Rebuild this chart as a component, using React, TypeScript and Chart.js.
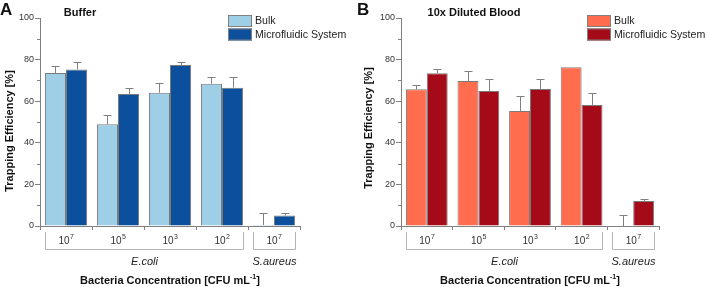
import React, { useEffect, useRef } from "react";
import { Chart, registerables } from "chart.js";

Chart.register(...registerables);

const categories = ["7", "5", "3", "2", "7"];
const groups = [
  { label: "E.coli", start: 0, end: 3 },
  { label: "S.aureus", start: 4, end: 4 },
];
const seriesNames = ["Bulk", "Microfluidic System"];

const bufferBulk = [73.5, 48.9, 64.1, 68.4, 0.5];
const bufferBulkErr = [3.3, 4.5, 4.8, 3.2, 5.9];
const bufferMicro = [75.3, 63.5, 77.4, 66.5, 5.1];
const bufferMicroErr = [3.5, 2.8, 1.3, 5.1, 1.0];

const bloodBulk = [65.7, 69.7, 55.3, 76.3, 0];
const bloodBulkErr = [1.9, 4.8, 7.0, 0, 5.5];
const bloodMicro = [73.4, 64.9, 65.9, 58.2, 12.0];
const bloodMicroErr = [1.9, 5.6, 4.6, 5.7, 0.8];

const FONT = "'Liberation Sans', Arial, Helvetica, sans-serif";

type PanelCfg = {
  letter: string;
  title: string;
  titleX: number;
  colors: string[];
  values: number[][];
  errors: number[][];
  left: number;
  right: number;
  yTitleX: number;
  yTitleY: number;
  legendX: number;
  letterX: number;
};

const panels: PanelCfg[] = [
  {
    letter: "A",
    title: "Buffer",
    titleX: 80,
    colors: ["#9ecfe7", "#0b4f9d"],
    values: [bufferBulk, bufferMicro],
    errors: [bufferBulkErr, bufferMicroErr],
    left: 40,
    right: 54,
    yTitleX: 10,
    yTitleY: 131,
    legendX: 228,
    letterX: 0,
  },
  {
    letter: "B",
    title: "10x Diluted Blood",
    titleX: 120,
    colors: ["#ff6c4e", "#a40a18"],
    values: [bloodBulk, bloodMicro],
    errors: [bloodBulkErr, bloodMicroErr],
    left: 47,
    right: 49,
    yTitleX: 15,
    yTitleY: 128,
    legendX: 233,
    letterX: 3,
  },
];

function makePlugin(cfg: PanelCfg) {
  return {
    id: "custom" + cfg.letter,
    afterDatasetsDraw(chart: any) {
      const ctx = chart.ctx;
      const y = chart.scales.y;
      ctx.save();
      ctx.strokeStyle = "#808080";
      ctx.lineWidth = 1;
      cfg.values.forEach((vals, di) => {
        const meta = chart.getDatasetMeta(di);
        meta.data.forEach((bar: any, i: number) => {
          const e = cfg.errors[di][i];
          if (!e) return;
          const x = Math.round(bar.x) + 0.5;
          const base = y.getPixelForValue(vals[i]);
          const top = Math.round(y.getPixelForValue(vals[i] + e)) + 0.5;
          ctx.beginPath();
          ctx.moveTo(x, base);
          ctx.lineTo(x, top);
          ctx.moveTo(x - 4, top);
          ctx.lineTo(x + 4, top);
          ctx.stroke();
        });
      });
      ctx.restore();
    },
    afterDraw(chart: any) {
      const ctx = chart.ctx;
      const y = chart.scales.y;
      const xs = chart.scales.x;
      const area = chart.chartArea;
      ctx.save();
      // minor y ticks
      ctx.strokeStyle = "#808080";
      ctx.lineWidth = 1;
      for (let v = 10; v < 100; v += 20) {
        const py = Math.round(y.getPixelForValue(v)) + 0.5;
        ctx.beginPath();
        ctx.moveTo(area.left - 3, py);
        ctx.lineTo(area.left, py);
        ctx.stroke();
      }
      // x tick labels with superscripts
      ctx.fillStyle = "#333333";
      ctx.textBaseline = "alphabetic";
      categories.forEach((exp, i) => {
        const cx = xs.getPixelForValue(i);
        ctx.font = `10px ${FONT}`;
        const w1 = ctx.measureText("10").width;
        ctx.font = `7px ${FONT}`;
        const w2 = ctx.measureText(exp).width;
        const sx = cx - (w1 + w2) / 2;
        ctx.font = `10px ${FONT}`;
        ctx.textAlign = "left";
        ctx.fillText("10", sx, 244);
        ctx.font = `7px ${FONT}`;
        ctx.fillText(exp, sx + w1 + 0.5, 238.5);
      });
      // brackets
      const m0 = chart.getDatasetMeta(0);
      const m1 = chart.getDatasetMeta(1);
      ctx.strokeStyle = "#b4b4b4";
      groups.forEach((g) => {
        const b0 = m0.data[g.start];
        const b1 = m1.data[g.end];
        const l = Math.round(b0.x - b0.width / 2) + 0.5;
        const r = Math.round(b1.x + b1.width / 2) + 0.5;
        ctx.beginPath();
        ctx.moveTo(l, 232);
        ctx.lineTo(l, 249.5);
        ctx.lineTo(r, 249.5);
        ctx.lineTo(r, 232);
        ctx.stroke();
        ctx.fillStyle = "#222222";
        ctx.font = `italic 11px ${FONT}`;
        ctx.textAlign = "center";
        ctx.fillText(g.label, (l + r) / 2, 265);
      });
      // x axis title
      ctx.fillStyle = "#111111";
      const t1 = "Bacteria Concentration [CFU mL";
      const sup = "-1";
      const t2 = "]";
      ctx.font = `bold 11px ${FONT}`;
      const wa = ctx.measureText(t1).width;
      const wc = ctx.measureText(t2).width;
      ctx.font = `bold 7px ${FONT}`;
      const wb = ctx.measureText(sup).width;
      const cxT = (area.left + area.right) / 2;
      let sx = cxT - (wa + wb + wc) / 2;
      ctx.textAlign = "left";
      ctx.font = `bold 11px ${FONT}`;
      ctx.fillText(t1, sx, 284);
      ctx.font = `bold 7px ${FONT}`;
      ctx.fillText(sup, sx + wa, 279);
      ctx.font = `bold 11px ${FONT}`;
      ctx.fillText(t2, sx + wa + wb, 284);
      // y axis title
      ctx.save();
      ctx.translate(cfg.yTitleX, cfg.yTitleY);
      ctx.rotate(-Math.PI / 2);
      ctx.textAlign = "center";
      ctx.textBaseline = "middle";
      ctx.font = `bold 11px ${FONT}`;
      ctx.fillText("Trapping Efficiency [%]", 0, 0);
      ctx.restore();
      // title
      ctx.textAlign = "center";
      ctx.textBaseline = "middle";
      ctx.font = `bold 11px ${FONT}`;
      ctx.fillText(cfg.title, cfg.titleX, 13);
      // panel letter
      ctx.textAlign = "left";
      ctx.textBaseline = "alphabetic";
      ctx.font = `bold 17px ${FONT}`;
      ctx.fillText(cfg.letter, cfg.letterX, 15);
      // legend
      seriesNames.forEach((name, i) => {
        const top = 15 + i * 13.5;
        ctx.fillStyle = cfg.colors[i];
        ctx.fillRect(cfg.legendX, top, 24, 12);
        ctx.strokeStyle = "#808080";
        ctx.strokeRect(cfg.legendX + 0.5, top + 0.5, 23, 11);
        ctx.fillStyle = "#222222";
        ctx.font = `10.6px ${FONT}`;
        ctx.textBaseline = "middle";
        ctx.fillText(name, cfg.legendX + 27, top + 6.5);
      });
      ctx.restore();
    },
  };
}

function Panel({ cfg }: { cfg: PanelCfg }) {
  const ref = useRef<HTMLCanvasElement>(null);
  useEffect(() => {
    if (!ref.current) return;
    const chart = new Chart(ref.current, {
      type: "bar",
      data: {
        labels: categories.map((c) => "10^" + c),
        datasets: seriesNames.map((name, i) => ({
          label: name,
          data: cfg.values[i],
          backgroundColor: cfg.colors[i],
          borderColor: "#7a7a7a",
          borderWidth: 1,
          borderSkipped: "bottom",
          categoryPercentage: 0.81,
          barPercentage: 1,
        })),
      },
      options: {
        animation: false,
        responsive: false,
        maintainAspectRatio: false,
        layout: { padding: { left: 0, right: cfg.right, top: 18, bottom: 0 } },
        plugins: { legend: { display: false }, tooltip: { enabled: false }, title: { display: false } },
        scales: {
          x: {
            offset: true,
            grid: {
              offset: true,
              drawOnChartArea: false,
              tickLength: 4,
              color: "#808080",
            },
            border: { color: "#808080" },
            ticks: { display: false },
            afterFit: (s: any) => {
              s.height = 61;
            },
          },
          y: {
            min: 0,
            max: 100,
            grid: { drawOnChartArea: false, tickLength: 5, color: "#808080" },
            border: { color: "#808080" },
            ticks: {
              stepSize: 20,
              padding: 1,
              color: "#333333",
              font: { family: FONT, size: 9 },
            },
            afterFit: (s: any) => {
              s.width = cfg.left;
            },
          },
        },
      },
      plugins: [makePlugin(cfg)],
    } as any);
    return () => chart.destroy();
  }, [cfg]);
  return <canvas ref={ref} width={354} height={287} style={{ width: 354, height: 287, display: "block" }} />;
}

export default function App() {
  return (
    <div style={{ position: "absolute", left: 0, top: 0, width: 708, height: 287, display: "flex", background: "#ffffff" }}>
      {panels.map((p) => (
        <Panel key={p.letter} cfg={p} />
      ))}
    </div>
  );
}
